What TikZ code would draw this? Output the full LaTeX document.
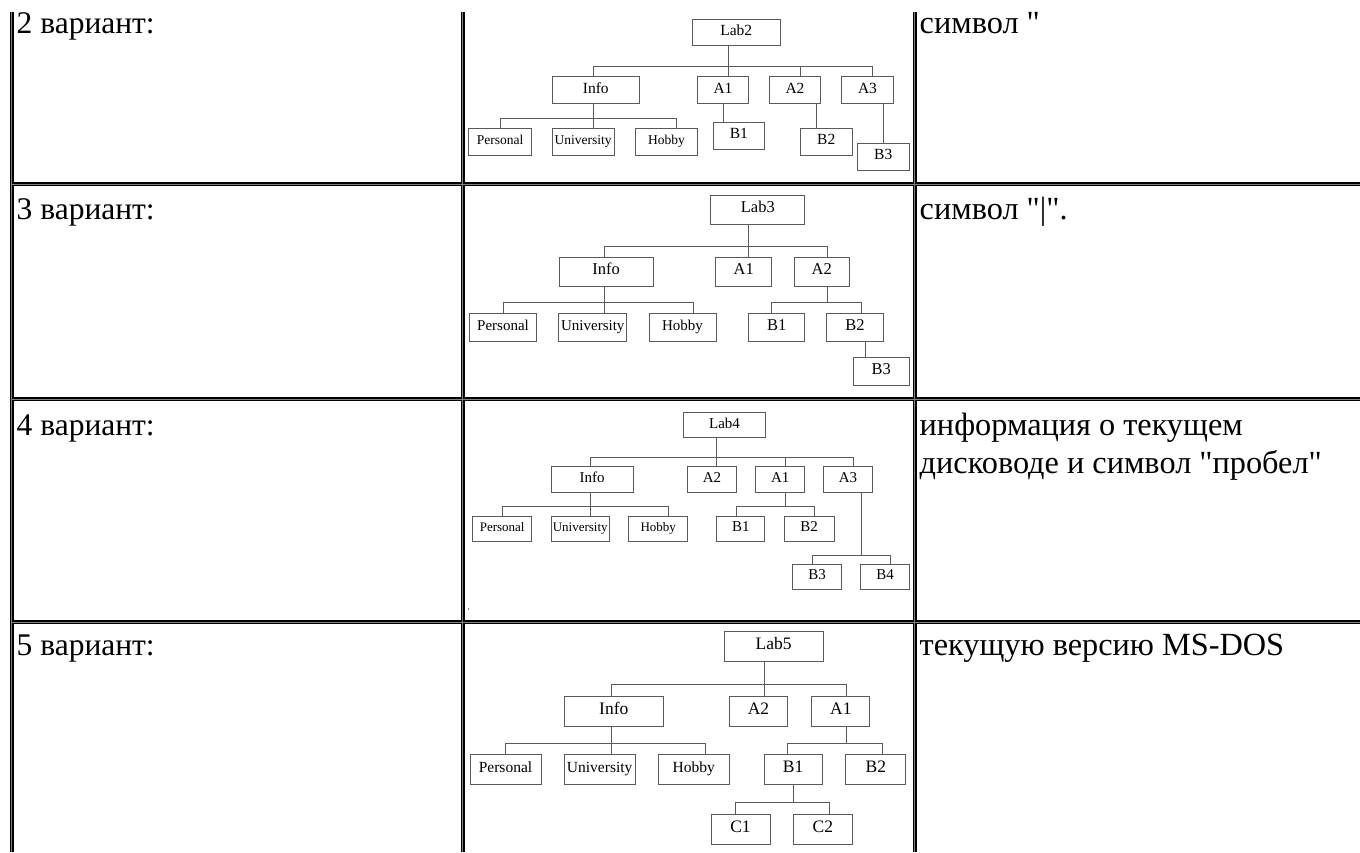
\documentclass[tikz,border=0pt]{standalone}
\usepackage{fontspec}
\setmainfont{Liberation Serif}[Ligatures=TeXOff]
\definecolor{boxc}{RGB}{90,90,90}
\begin{document}
\begin{tikzpicture}[x=1pt,y=-1pt,
  bx/.style={draw=boxc, line width=1pt, inner sep=0pt, text height=10pt, text depth=4pt},
  sz/.style 2 args={minimum width=#1, minimum height=#2},
  ln/.style={draw=boxc, line width=1pt},
  tl/.style={line width=4pt, black},
  tg/.style={line width=0.8pt, gray},
  tx/.style={inner sep=0pt, anchor=base west, font=\fontsize{31.5}{38}\selectfont},
  txr/.style={inner sep=0pt, anchor=base west, font=\fontsize{32.3}{38}\selectfont},
  fa/.style={font=\fontsize{15.5}{15.5}\selectfont},
  fas/.style={font=\fontsize{13.5}{13.5}\selectfont},
  fb/.style={font=\fontsize{16.5}{16.5}\selectfont},
  fbs/.style={font=\fontsize{15}{15}\selectfont},
  fc/.style={font=\fontsize{15}{15}\selectfont},
  fcs/.style={font=\fontsize{13}{13}\selectfont},
  fd/.style={font=\fontsize{17.5}{17.5}\selectfont},
  fds/.style={font=\fontsize{15.5}{15.5}\selectfont}
]
\useasboundingbox (0,0) rectangle (1360,852);
\fill[white] (0,0) rectangle (1360,852);

% ---------- table grid ----------
\foreach \xx in {11.5,462.7,914.8} {
  \draw[tl] (\xx,12) -- (\xx,852);
}
\foreach \yy in {184,399,622} {
  \draw[tl] (11.5,\yy) -- (1360,\yy);
}
\foreach \xx in {11.5,462.7,914.8} {
  \draw[tg] (\xx,12) -- (\xx,852);
}
\foreach \yy in {184,399,622} {
  \draw[tg] (11.5,\yy) -- (1360,\yy);
}

% ---------- table texts ----------
\node[tx] (l1) at (16.5,33) {2 вариант:};
\node[tx] (l2) at (16.5,219) {3 вариант:};
\node[tx] (l3) at (16.5,435) {4 вариант:};
\node[tx] (l4) at (16.5,655) {5 вариант:};
\node[txr] (r1) at (919.5,33) {символ "};
\node[txr] (r2) at (919.5,219) {символ "|".};
\node[txr] (r3a) at (919.5,435) {информация о текущем};
\node[txr] (r3b) at (919.5,473) {дисководе и символ "пробел"};
\node[txr] (r4) at (919.5,655) {текущую версию MS-DOS};

% ---------- panel 1 ----------
\node[bx,fa,sz={87.7}{26}] (p1lab) at (736.2,32) {Lab2};
\node[bx,fa,sz={87}{26.6}] (p1info) at (595.8,90) {Info};
\node[bx,fa,sz={51.4}{26.6}] (p1a1) at (723,90) {A1};
\node[bx,fa,sz={51.4}{26.6}] (p1a2) at (795,90) {A2};
\node[bx,fa,sz={51.6}{26.6}] (p1a3) at (867.5,90) {A3};
\node[bx,fas,sz={63.4}{26.7}] (p1per) at (500,141.7) {Personal};
\node[bx,fas,sz={61.7}{26.7}] (p1uni) at (583.2,141.7) {University};
\node[bx,fas,sz={61.6}{26.7}] (p1hob) at (666.5,141.7) {Hobby};
\node[bx,fa,sz={51}{26.7}] (p1b1) at (738.8,135.7) {B1};
\node[bx,fa,sz={52.3}{26.7}] (p1b2) at (826.2,141.7) {B2};
\node[bx,fa,sz={51.7}{26.7}] (p1b3) at (883.2,156.7) {B3};
\coordinate (p1bl) at (593.3,66);
\coordinate (p1br) at (872.7,66);
\coordinate (p1s) at (728.3,66);
\coordinate (p1c2) at (800,66);
\draw[ln] (p1lab.south -| p1s) -- (p1a1.north -| p1s);
\draw[ln] (p1info.north -| p1bl) -- (p1bl) -- (p1br) -- (p1a3.north -| p1br);
\draw[ln] (p1c2) -- (p1a2.north -| p1c2);
\coordinate (p1il) at (500.7,118.3);
\coordinate (p1ir) at (676.7,118.3);
\coordinate (p1im) at (593.3,118.3);
\draw[ln] (p1info.south -| p1im) -- (p1uni.north -| p1im);
\draw[ln] (p1per.north -| p1il) -- (p1il) -- (p1ir) -- (p1hob.north -| p1ir);
\draw[ln] (p1a1.south) -- (p1a1.south |- p1b1.north);
\coordinate (p1d2) at (816.7,100);
\draw[ln] (p1a2.south -| p1d2) -- (p1b2.north -| p1d2);
\draw[ln] (p1b3.north) -- (p1b3.north |- p1a3.south);

% ---------- panel 2 ----------
\node[bx,fb,sz={94.3}{29.3}] (p2lab) at (757.8,209.7) {Lab3};
\node[bx,fb,sz={94.3}{28.7}] (p2info) at (606.2,271.7) {Info};
\node[bx,fb,sz={56}{28.7}] (p2a1) at (743.7,271.7) {A1};
\node[bx,fb,sz={55.3}{28.7}] (p2a2) at (821.7,271.7) {A2};
\node[bx,fbs,sz={67.4}{28.4}] (p2per) at (503,327.5) {Personal};
\node[bx,fbs,sz={67.7}{28.4}] (p2uni) at (592.8,327.5) {University};
\node[bx,fbs,sz={67}{28.4}] (p2hob) at (682.5,327.5) {Hobby};
\node[bx,fb,sz={56.3}{28.4}] (p2b1) at (776.8,327.5) {B1};
\node[bx,fb,sz={56.6}{28.4}] (p2b2) at (855,327.5) {B2};
\node[bx,fb,sz={56}{28.4}] (p2b3) at (881.3,371.5) {B3};
\coordinate (p2bl) at (604,246.7);
\coordinate (p2br) at (827.3,246.7);
\coordinate (p2s) at (748.7,246.7);
\draw[ln] (p2lab.south -| p2s) -- (p2a1.north -| p2s);
\draw[ln] (p2info.north -| p2bl) -- (p2bl) -- (p2br) -- (p2a2.north -| p2br);
\coordinate (p2il) at (503.3,302.3);
\coordinate (p2ir) at (693.3,302.3);
\coordinate (p2im) at (604,302.3);
\draw[ln] (p2info.south -| p2im) -- (p2uni.north -| p2im);
\draw[ln] (p2per.north -| p2il) -- (p2il) -- (p2ir) -- (p2hob.north -| p2ir);
\coordinate (p2al) at (771.7,302.3);
\coordinate (p2ar) at (861,302.3);
\coordinate (p2am) at (827.3,302.3);
\draw[ln] (p2a2.south -| p2am) -- (p2am);
\draw[ln] (p2b1.north -| p2al) -- (p2al) -- (p2ar) -- (p2b2.north -| p2ar);
\coordinate (p2d) at (865.7,350);
\draw[ln] (p2b2.south -| p2d) -- (p2b3.north -| p2d);

% ---------- panel 3 ----------
\node[bx,fc,sz={82.4}{25}] (p3lab) at (724.5,425.2) {Lab4};
\node[bx,fc,sz={82.3}{25.6}] (p3info) at (592.2,479.5) {Info};
\node[bx,fc,sz={49.4}{25.6}] (p3a2) at (712,479.5) {A2};
\node[bx,fc,sz={49}{25.6}] (p3a1) at (780.2,479.5) {A1};
\node[bx,fc,sz={49.4}{25.6}] (p3a3) at (848,479.5) {A3};
\node[bx,fcs,sz={59}{25}] (p3per) at (502.2,528.5) {Personal};
\node[bx,fcs,sz={58.3}{25}] (p3uni) at (580.2,528.5) {University};
\node[bx,fcs,sz={58.7}{25}] (p3hob) at (658.3,528.5) {Hobby};
\node[bx,fc,sz={48.3}{25}] (p3b1) at (740.8,528.5) {B1};
\node[bx,fc,sz={49.7}{25}] (p3b2) at (809.2,528.5) {B2};
\node[bx,fc,sz={49.4}{25.3}] (p3b3) at (817,576.7) {B3};
\node[bx,fc,sz={48.6}{25.3}] (p3b4) at (885,576.7) {B4};
\coordinate (p3bl) at (590,457.7);
\coordinate (p3br) at (853.3,457.7);
\coordinate (p3s) at (716.7,457.7);
\coordinate (p3c1) at (785,457.7);
\draw[ln] (p3lab.south -| p3s) -- (p3a2.north -| p3s);
\draw[ln] (p3info.north -| p3bl) -- (p3bl) -- (p3br) -- (p3a3.north -| p3br);
\draw[ln] (p3c1) -- (p3a1.north -| p3c1);
\coordinate (p3il) at (502.7,506.7);
\coordinate (p3ir) at (668.3,506.7);
\coordinate (p3im) at (590,506.7);
\draw[ln] (p3info.south -| p3im) -- (p3uni.north -| p3im);
\draw[ln] (p3per.north -| p3il) -- (p3il) -- (p3ir) -- (p3hob.north -| p3ir);
\coordinate (p3al) at (736.7,506.7);
\coordinate (p3ar) at (814.3,506.7);
\coordinate (p3am) at (785,506.7);
\draw[ln] (p3a1.south -| p3am) -- (p3am);
\draw[ln] (p3b1.north -| p3al) -- (p3al) -- (p3ar) -- (p3b2.north -| p3ar);
\coordinate (p3el) at (812.7,555);
\coordinate (p3er) at (890.7,555);
\coordinate (p3em) at (861,555);
\draw[ln] (p3a3.south -| p3em) -- (p3em);
\draw[ln] (p3b3.north -| p3el) -- (p3el) -- (p3er) -- (p3b4.north -| p3er);
\fill[black] (468.5,609) circle (0.7);

% ---------- panel 4 ----------
\node[bx,fd,sz={99.3}{30}] (p4lab) at (773.7,646) {Lab5};
\node[bx,fd,sz={99}{30}] (p4info) at (613.8,711) {Info};
\node[bx,fd,sz={58.4}{30}] (p4a2) at (758.5,711) {A2};
\node[bx,fd,sz={58.3}{30}] (p4a1) at (840.8,711) {A1};
\node[bx,fds,sz={71}{30}] (p4per) at (505.5,769.3) {Personal};
\node[bx,fds,sz={70.7}{30}] (p4uni) at (599.7,769.3) {University};
\node[bx,fds,sz={71}{30}] (p4hob) at (693.8,769.3) {Hobby};
\node[bx,fd,sz={58.3}{30}] (p4b1) at (793.2,769.3) {B1};
\node[bx,fd,sz={59.7}{30}] (p4b2) at (875.8,769.3) {B2};
\node[bx,fd,sz={59}{30}] (p4c1) at (740.5,829) {C1};
\node[bx,fd,sz={59}{30}] (p4c2) at (822.8,829) {C2};
\coordinate (p4bl) at (611.7,684.3);
\coordinate (p4br) at (846.7,684.3);
\coordinate (p4s) at (764.3,684.3);
\draw[ln] (p4lab.south -| p4s) -- (p4a2.north -| p4s);
\draw[ln] (p4info.north -| p4bl) -- (p4bl) -- (p4br) -- (p4a1.north -| p4br);
\coordinate (p4il) at (505.7,743.3);
\coordinate (p4ir) at (705.7,743.3);
\coordinate (p4im) at (611.7,743.3);
\draw[ln] (p4info.south -| p4im) -- (p4uni.north -| p4im);
\draw[ln] (p4per.north -| p4il) -- (p4il) -- (p4ir) -- (p4hob.north -| p4ir);
\coordinate (p4al) at (787.7,743.3);
\coordinate (p4ar) at (882.3,743.3);
\coordinate (p4am) at (846.7,743.3);
\draw[ln] (p4a1.south -| p4am) -- (p4am);
\draw[ln] (p4b1.north -| p4al) -- (p4al) -- (p4ar) -- (p4b2.north -| p4ar);
\coordinate (p4cl) at (735,802.3);
\coordinate (p4cr) at (829,802.3);
\coordinate (p4cm) at (793.3,802.3);
\draw[ln] (p4b1.south -| p4cm) -- (p4cm);
\draw[ln] (p4c1.north -| p4cl) -- (p4cl) -- (p4cr) -- (p4c2.north -| p4cr);
\end{tikzpicture}
\end{document}
